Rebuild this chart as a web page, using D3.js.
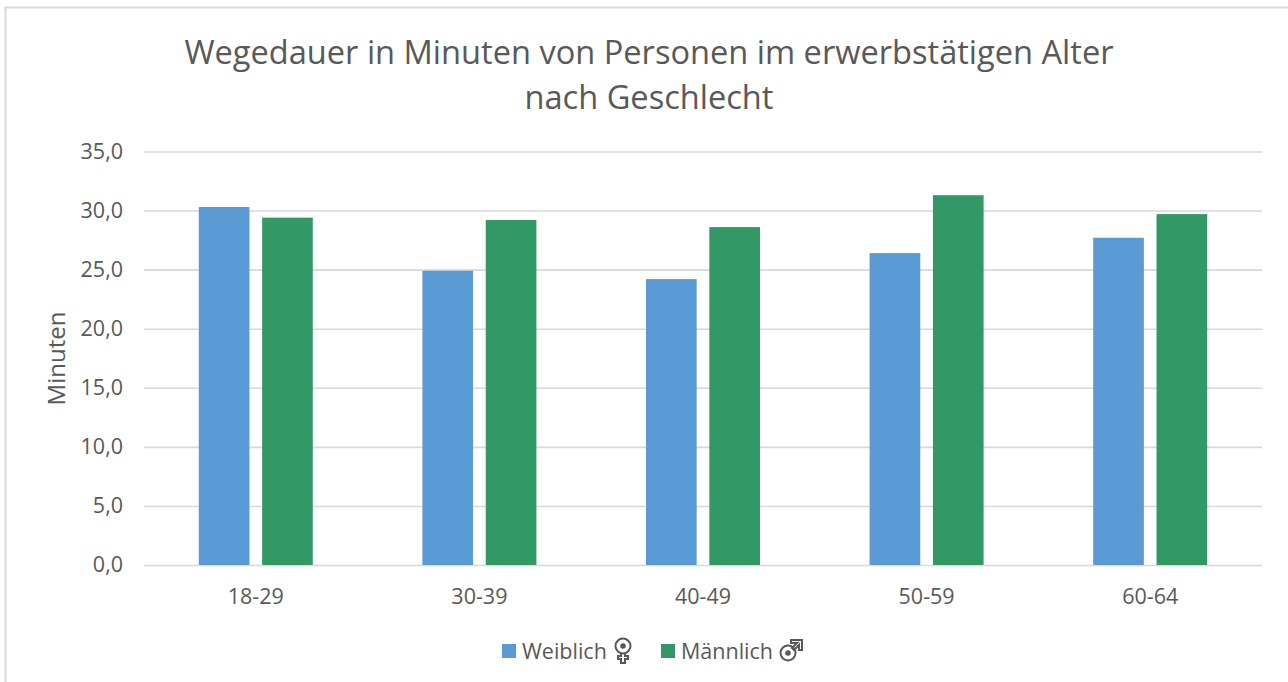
<!DOCTYPE html>
<html>
<head>
<meta charset="utf-8">
<script src="https://cdn.jsdelivr.net/npm/d3@7"></script>
<style>
    html, body { margin: 0; padding: 0; background: #fff; }
    svg { display: block; }
    text { font-family: "Open Sans", "Noto Sans", sans-serif; fill: #595959; }
</style>
</head>
<body>
<div id="chart"></div>
<script>
// Data
const ageGroups = ["18-29", "30-39", "40-49", "50-59", "60-64"];
const seriesNames = ["Weiblich", "Männlich"];
const weiblich = [30.3, 24.9, 24.2, 26.4, 27.7];
const maennlich = [29.4, 29.2, 28.6, 31.3, 29.7];
const yTicks = [0, 5, 10, 15, 20, 25, 30, 35];
const titleLines = ["Wegedauer in Minuten von Personen im erwerbstätigen Alter", "nach Geschlecht"];

const colors = { Weiblich: "#5b9bd5", "Männlich": "#329966" };
const width = 1288, height = 682;
const margin = { top: 151.5, right: 26, bottom: 117, left: 144 };

const svg = d3.select("#chart").append("svg")
    .attr("width", width)
    .attr("height", height);

// Chart frame, open at the right and bottom edge of the picture
svg.append("path")
    .attr("d", d3.line()([[5.5, height], [5.5, 7.5], [width, 7.5]]))
    .attr("fill", "none")
    .attr("stroke", "#d9d9d9")
    .attr("stroke-width", 2);

// Scales
const xScale = d3.scaleBand()
    .domain(ageGroups)
    .range([margin.left, width - margin.right]);

const xInner = d3.scaleBand()
    .domain(seriesNames)
    .range([-57, 57])
    .paddingInner(0.2);

const yScale = d3.scaleLinear()
    .domain([0, 35])
    .range([height - margin.bottom, margin.top]);

// Gridlines and y tick labels
const yAxis = d3.axisLeft(yScale)
    .tickValues(yTicks)
    .tickSize(-(width - margin.left - margin.right))
    .tickPadding(21)
    .tickFormat(d => d3.format(".1f")(d).replace(".", ","));

const yAxisG = svg.append("g")
    .attr("transform", `translate(${margin.left},0)`)
    .call(yAxis);
yAxisG.select(".domain").remove();
yAxisG.selectAll("line").attr("stroke", "#d9d9d9").attr("stroke-width", 1.6);
yAxisG.selectAll("text").attr("font-size", "21.5px").style("fill", "#595959");

// Bars
const rows = ageGroups.map((age, i) => ({ age, Weiblich: weiblich[i], "Männlich": maennlich[i] }));

svg.selectAll(".group")
    .data(rows)
    .enter().append("g")
    .attr("class", "group")
    .attr("transform", d => `translate(${xScale(d.age) + xScale.bandwidth() / 2},0)`)
    .selectAll("rect")
    .data(d => seriesNames.map(name => ({ name, value: d[name] })))
    .enter().append("rect")
    .attr("x", d => xInner(d.name))
    .attr("y", d => yScale(d.value))
    .attr("width", xInner.bandwidth())
    .attr("height", d => yScale(0) - yScale(d.value))
    .attr("fill", d => colors[d.name]);

// x axis labels
const xAxisG = svg.append("g")
    .attr("transform", `translate(0,${height - margin.bottom})`)
    .call(d3.axisBottom(xScale).tickSize(0).tickPadding(24));
xAxisG.select(".domain").remove();
xAxisG.selectAll("text").attr("font-size", "21.5px").style("fill", "#595959");

// Title
svg.append("text")
    .attr("x", 649)
    .attr("text-anchor", "middle")
    .attr("font-size", "32.6px")
    .selectAll("tspan")
    .data(titleLines)
    .enter().append("tspan")
    .attr("x", 649)
    .attr("y", (d, i) => 64 + i * 45)
    .text(d => d);

// y axis title
svg.append("text")
    .attr("transform", "translate(65,358.5) rotate(-90)")
    .attr("text-anchor", "middle")
    .attr("font-size", "24px")
    .text("Minuten");

// Legend
const legendX = [502, 661];
const legend = svg.selectAll(".legend")
    .data(seriesNames)
    .enter().append("g")
    .attr("class", "legend")
    .attr("transform", (d, i) => `translate(${legendX[i]},644)`);

legend.append("rect")
    .attr("width", 14)
    .attr("height", 14)
    .attr("fill", d => colors[d]);

legend.append("text")
    .attr("x", 20)
    .attr("y", 15)
    .attr("font-size", "21.5px")
    .text(d => d);

// Gender icons next to the legend labels
const iconStroke = "#595959";
const female = svg.append("g")
    .attr("transform", "translate(623,646)")
    .attr("fill", "none")
    .attr("stroke", iconStroke)
    .attr("stroke-width", 2);
female.append("circle").attr("r", 7.5);
female.append("circle").attr("r", 2.8).attr("fill", iconStroke).attr("stroke", "none");
female.append("path").attr("d", "M-2,7.5V10H-5V13H-2V17H2V13H5V10H2V7.5");

const male = svg.append("g")
    .attr("transform", "translate(788,653)")
    .attr("fill", "none")
    .attr("stroke", iconStroke)
    .attr("stroke-width", 2);
male.append("circle").attr("r", 7.5);
male.append("circle").attr("r", 2.8).attr("fill", iconStroke).attr("stroke", "none");
male.append("path").attr("d", "M3,-13H14V-3H11V-8L6,-3L4,-5L9,-10H3Z");
</script>
</body>
</html>
